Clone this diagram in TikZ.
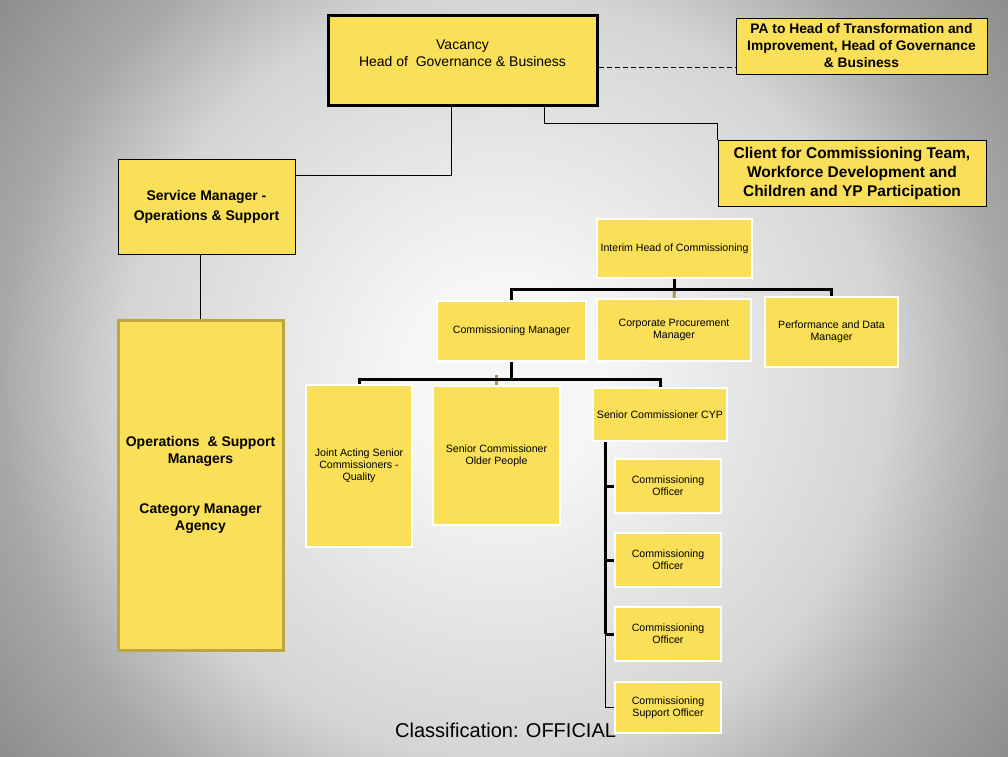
\documentclass[tikz,border=0pt]{standalone}
\usepackage{fontspec}
\setmainfont{Liberation Sans}
\usetikzlibrary{positioning, calc}

\definecolor{postfill}{RGB}{250,223,88}
\definecolor{teamedge}{RGB}{190,166,62}
\definecolor{stubtan}{RGB}{168,152,86}
\definecolor{bgin}{RGB}{246,246,246}
\definecolor{bgmid}{RGB}{212,212,212}
\definecolor{bgedge}{RGB}{168,168,168}
\definecolor{bgout}{RGB}{138,138,138}

\pgfdeclareradialshading{slidebg}{\pgfpoint{0bp}{0bp}}{%
  color(0bp)=(bgin); color(5bp)=(bgin); color(19bp)=(bgmid);
  color(25bp)=(bgedge); color(32bp)=(bgout); color(50bp)=(bgout)}

\tikzset{
post/.style={fill=postfill, align=center, inner sep=2pt}, % every yellow box
headpost/.style={post, draw=black, line width=3pt}, % the head of service
headtext/.style={align=center, font=\fontsize{14}{17}\selectfont},
boldpost/.style={post, draw=black, line width=0.9pt, font=\bfseries\fontsize{13.8}{17}\selectfont},
teampost/.style={post, draw=teamedge, line width=3pt, font=\bfseries\fontsize{14}{17}\selectfont},
rolepost/.style={post, draw=white, line width=2.5pt, font=\fontsize{10.6}{12}\selectfont},
link/.style={draw=black, line width=1.1pt}, % thin reporting line
branch/.style={draw=black, line width=3pt}, % thick tree line
stub/.style={draw=stubtan, line width=3pt},
}

\begin{document}
\begin{tikzpicture}[x=1pt, y=-1pt]
    \useasboundingbox (0,0) rectangle (1008,756);
    \begin{scope}
      \clip (0,0) rectangle (1008,756);
      \shade[shading=slidebg] (0,-126) rectangle (1008,882);
    \end{scope}

    % top of the chart
    \node[headpost, minimum width=269pt, minimum height=90pt,
      label={[headtext, yshift=7pt]center:Vacancy\\Head of~ Governance \& Business}] (vac) at (462.5,60) {};
    \node[boldpost, minimum width=251pt, minimum height=56pt] (pa) at (861.5,46) {PA to Head of Transformation and\\Improvement, Head of Governance\\\& Business};
    \node[boldpost, minimum width=268pt, minimum height=66pt, font=\bfseries\fontsize{15.5}{19}\selectfont] (client) at (852,173) {Client for Commissioning Team,\\Workforce Development and\\Children and YP Participation};
    \node[boldpost, minimum width=177pt, minimum height=95pt, font=\bfseries\fontsize{14}{20}\selectfont] (svc) at (206.5,207) {Service Manager -\\Operations \& Support};
    \node[teampost, minimum width=165pt, minimum height=330pt] (ops) at (200.5,485) {Operations~ \& Support\\Managers\\[33pt]Category Manager\\Agency};

    % commissioning team
    \node[rolepost, minimum width=155pt, minimum height=59pt] (interim) at (674.5,248.5) {Interim Head of Commissioning};
    \node[rolepost, minimum width=149pt, minimum height=60pt] (cm) at (511.5,331) {Commissioning Manager};
    \node[rolepost, minimum width=154pt, minimum height=62pt] (cpm) at (674,330) {Corporate Procurement\\Manager};
    \node[rolepost, minimum width=133pt, minimum height=70pt] (pdm) at (831.5,332) {Performance and Data\\Manager};
    \node[rolepost, minimum width=106pt, minimum height=162pt] (joint) at (359,466) {Joint Acting Senior\\Commissioners -\\Quality};
    \node[rolepost, minimum width=127pt, minimum height=139pt] (older) at (496.5,455.5) {Senior Commissioner\\Older People};
    \node[rolepost, minimum width=134pt, minimum height=53pt] (cyp) at (660,414.5) {Senior Commissioner CYP};
    \foreach \n/\y in {co1/486, co2/560, co3/634}
      \node[rolepost, minimum width=106pt, minimum height=54pt] (\n) at (668,\y) {Commissioning\\Officer};
    \node[rolepost, minimum width=106pt, minimum height=51pt] (cso) at (668,707.5) {Commissioning\\Support Officer};

    \node[font=\fontsize{20}{24}\selectfont, anchor=base west, inner sep=0pt] (cls) at (395,737) {Classification: OFFICIAL};

    % reporting lines
    \coordinate (dash) at ($(vac.east)+(0,7)$);
    \draw[link, line width=0.9pt, dash pattern=on 5pt off 3pt] (dash) -- (dash -| pa.west);
    \draw[link] ($(vac.south west)+(218,0)$) -- ++(0,17) -| (client.north west);
    \draw[link] ($(vac.south west)+(125,0)$) |- ($(svc.north east)+(0,16)$);
    \draw[link] (svc.south -| ops.north) -- (ops.north);

    \draw[stub] ($(interim.south)+(0,10)$ -| cpm.north) -- (cpm.north);
    \draw[branch] (interim.south) -- ++(0,10) coordinate (ibar);
    \draw[branch] (cm.north) |- (ibar) -| (pdm.north);

    \draw[stub] (older.north) -- ++(0,-10);
    \draw[branch] (cm.south) -- ++(0,17) coordinate (cbar);
    \draw[branch] (joint.north) |- (cbar) -| (cyp.north);

    \coordinate (spine) at ($(cyp.south west)+(14,0)$);
    \draw[branch] (spine) -- (spine |- co3.west);
    \foreach \n in {co1,co2,co3}
      \draw[branch] (spine |- \n.west) -- (\n.west);
    \draw[link] (spine |- co3.west) |- (cso.west);
\end{tikzpicture}
\end{document}
